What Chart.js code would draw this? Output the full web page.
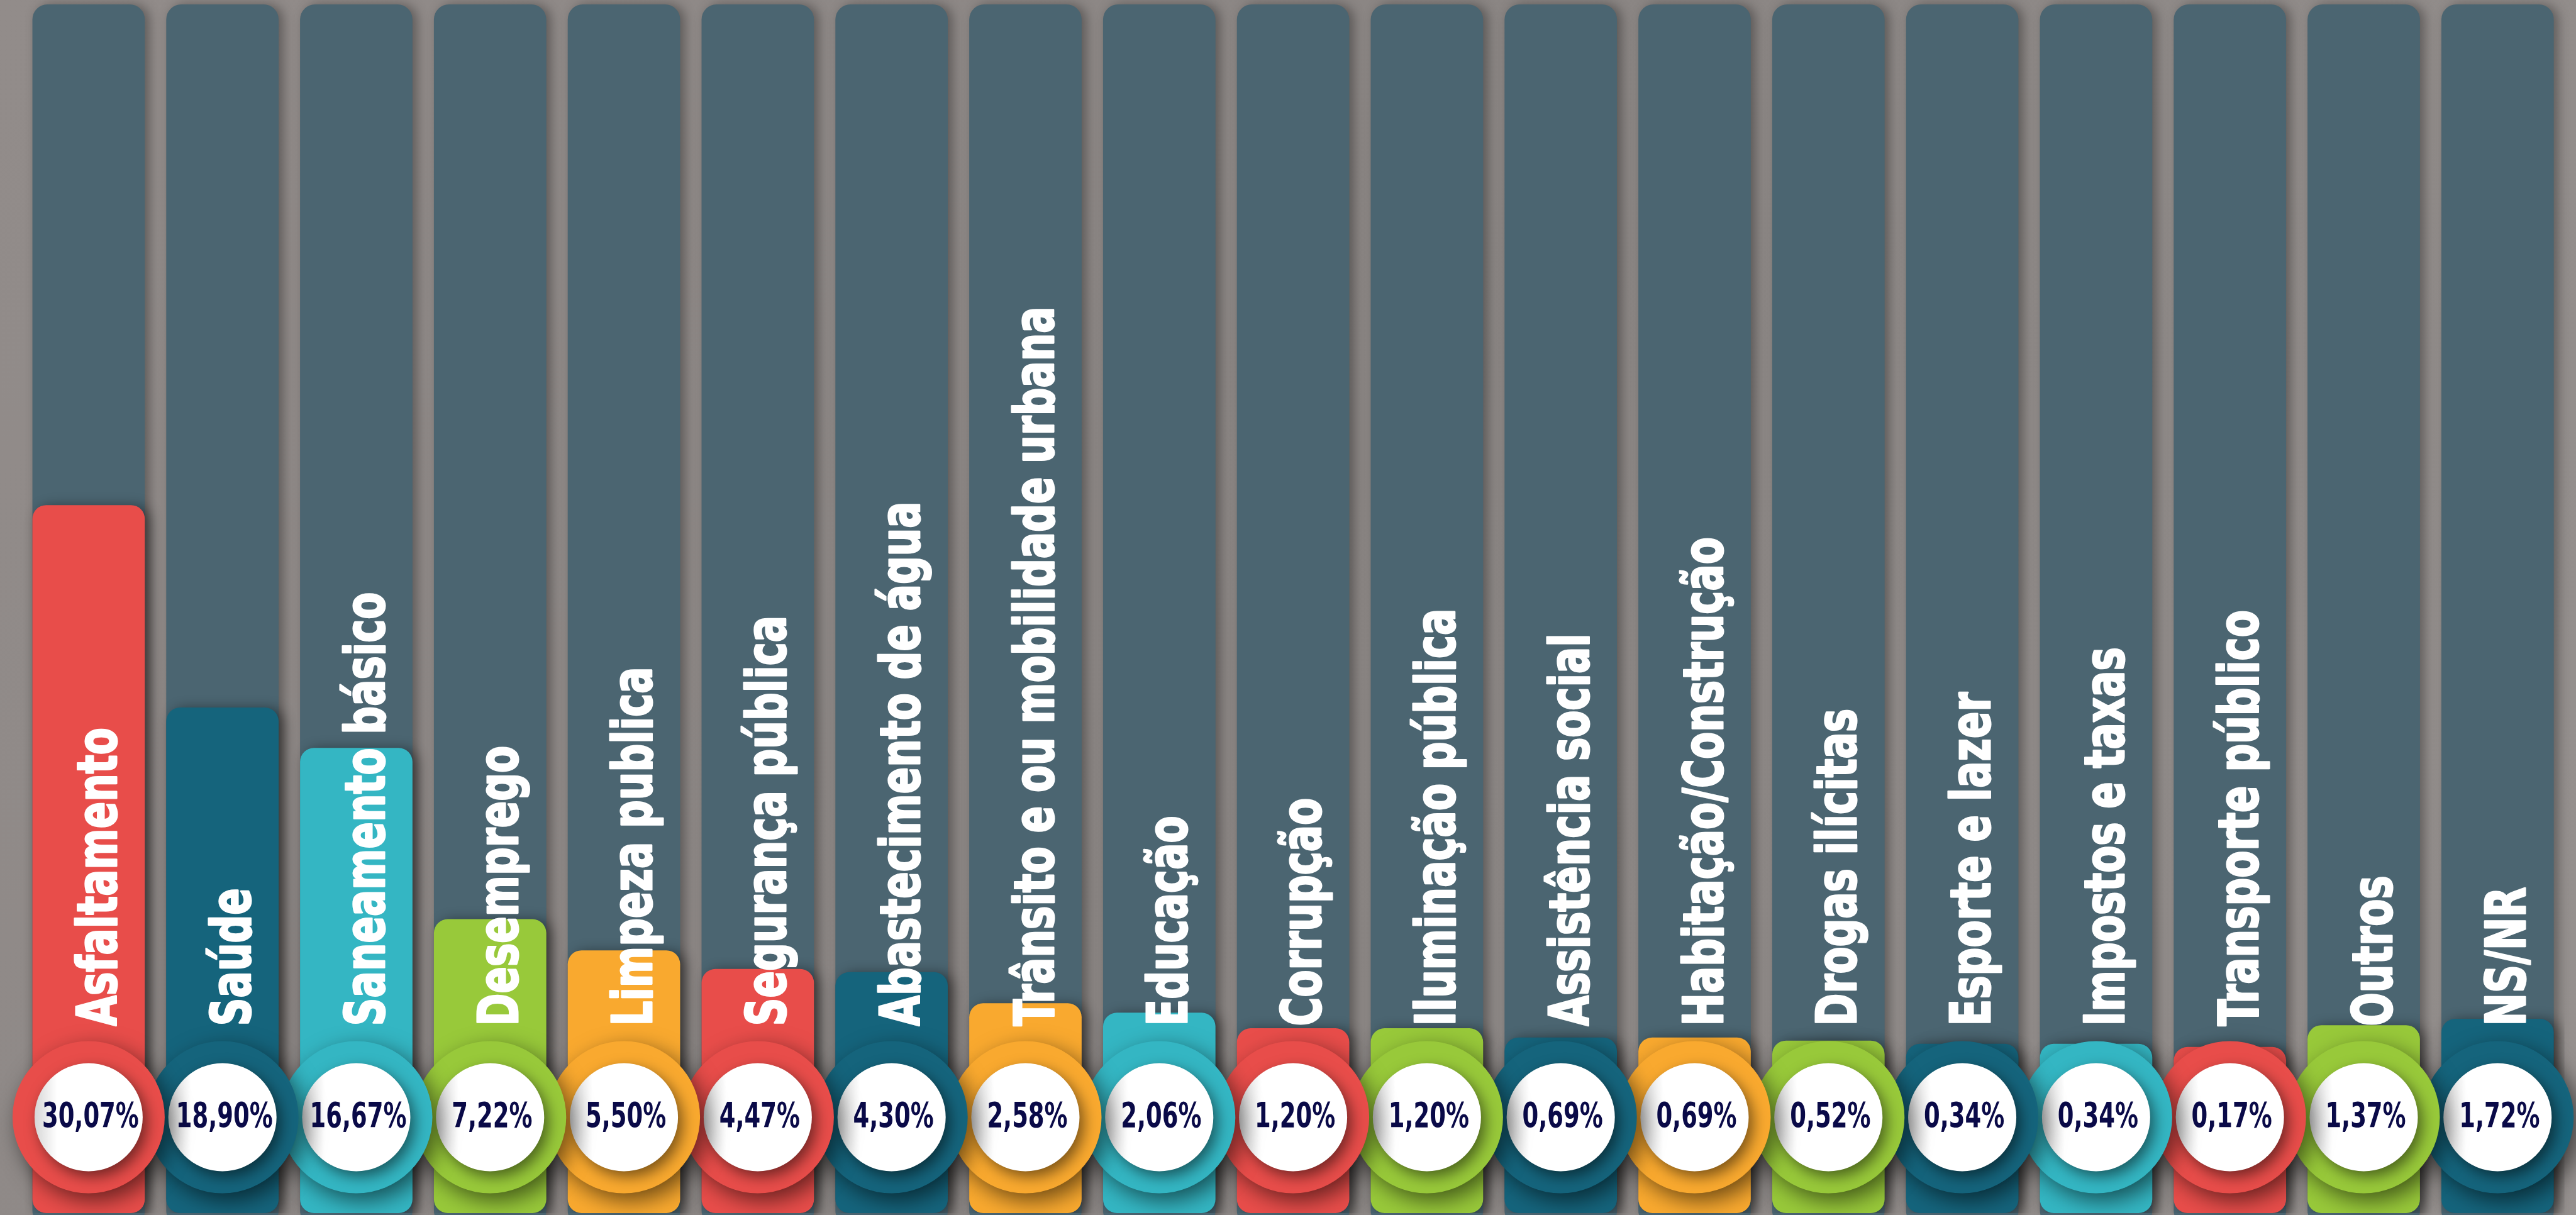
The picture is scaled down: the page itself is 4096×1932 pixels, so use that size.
<!DOCTYPE html>
<html lang="pt-BR">
<head>
<meta charset="utf-8">
<title>Principais problemas</title>
<script src="https://cdn.jsdelivr.net/npm/chart.js@4.4.1/dist/chart.umd.min.js"></script>
<style>
  html, body { margin: 0; padding: 0; background: #8c8786; overflow: hidden; }
  #box { position: relative; width: 4096px; height: 1932px; }
</style>
</head>
<body>
<div id="box"><canvas id="grafico"></canvas></div>
<script>
// Problemas citados
const categorias = [
    "Asfaltamento", "Saúde", "Saneamento básico", "Desemprego", "Limpeza publica",
    "Segurança pública", "Abastecimento de água", "Trânsito e ou mobilidade urbana",
    "Educação", "Corrupção", "Iluminação pública", "Assistência social",
    "Habitação/Construção", "Drogas ilícitas", "Esporte e lazer", "Impostos e taxas",
    "Transporte público", "Outros", "NS/NR"
];

// Percentual de respostas
const percentuais = [
    30.07, 18.90, 16.67, 7.22, 5.50, 4.47, 4.30, 2.58, 2.06, 1.20,
    1.20, 0.69, 0.69, 0.52, 0.34, 0.34, 0.17, 1.37, 1.72
];

// Cor de cada barra
const cores = [
    "#e84d4a", "#15647c", "#34b6c3", "#98c93a", "#f9a92f",
    "#e84d4a", "#15647c", "#f9a92f", "#34b6c3", "#e84d4a",
    "#98c93a", "#15647c", "#f9a92f", "#98c93a", "#15647c",
    "#34b6c3", "#e84d4a", "#98c93a", "#15647c"
];

const Y_MIN = -9;
const Y_MAX = 57.7;
const COR_TRILHO = "#4b6571";
const COR_TEXTO = "#0a0a48";

function formatarPercentual(v) {
    return v.toFixed(2).replace(".", ",") + "%";
}

// Fundo cinza
const fundo = {
    id: "fundo",
    beforeDraw(chart) {
        const ctx = chart.ctx;
        const g = ctx.createLinearGradient(0, 0, chart.width, chart.height);
        g.addColorStop(0, "#928c8a");
        g.addColorStop(0.5, "#8a8583");
        g.addColorStop(1, "#96918f");
        ctx.save();
        ctx.fillStyle = g;
        ctx.fillRect(0, 0, chart.width, chart.height);
        ctx.restore();
    }
};

// Trilhos escuros atrás das barras
const trilhos = {
    id: "trilhos",
    beforeDatasetsDraw(chart) {
        const ctx = chart.ctx;
        const area = chart.chartArea;
        chart.getDatasetMeta(0).data.forEach(bar => {
            ctx.save();
            ctx.shadowColor = "rgba(0,0,0,0.35)";
            ctx.shadowBlur = 18;
            ctx.shadowOffsetX = 7;
            ctx.fillStyle = COR_TRILHO;
            ctx.beginPath();
            ctx.roundRect(bar.x - bar.width / 2, area.top, bar.width, area.bottom - area.top + 20, 24);
            ctx.fill();
            ctx.restore();
        });
    },
    // sombra das barras coloridas
    beforeDatasetDraw(chart) {
        const ctx = chart.ctx;
        ctx.save();
        ctx.shadowColor = "rgba(0,0,0,0.45)";
        ctx.shadowBlur = 20;
        ctx.shadowOffsetX = 8;
        ctx.shadowOffsetY = 2;
    },
    afterDatasetDraw(chart) {
        chart.ctx.restore();
    }
};

// Nomes na vertical e círculos com o percentual
const rotulos = {
    id: "rotulos",
    afterDatasetsDraw(chart) {
        const ctx = chart.ctx;
        const bars = chart.getDatasetMeta(0).data;
        const cy = chart.chartArea.bottom - 152.5;

        bars.forEach((bar, i) => {
            ctx.save();
            ctx.translate(bar.x + 44, cy - 145);
            ctx.rotate(-Math.PI / 2);
            ctx.scale(0.72, 1);
            ctx.font = "bold 87px 'DejaVu Sans'";
            ctx.fillStyle = "#ffffff";
            ctx.strokeStyle = "#ffffff";
            ctx.lineWidth = 3;
            ctx.lineJoin = "round";
            ctx.textAlign = "left";
            ctx.textBaseline = "alphabetic";
            ctx.fillText(categorias[i], 0, 0);
            ctx.strokeText(categorias[i], 0, 0);
            ctx.restore();
        });

        // da direita para a esquerda: o círculo da esquerda fica por cima
        for (let i = bars.length - 1; i >= 0; i--) {
            const x = bars[i].x;

            ctx.save();
            ctx.shadowColor = "rgba(0,0,0,0.55)";
            ctx.shadowBlur = 34;
            ctx.shadowOffsetX = 10;
            ctx.shadowOffsetY = 12;
            ctx.fillStyle = cores[i];
            ctx.beginPath();
            ctx.arc(x, cy, 121, 0, Math.PI * 2);
            ctx.fill();
            ctx.restore();

            ctx.save();
            ctx.shadowColor = "rgba(0,0,0,0.5)";
            ctx.shadowBlur = 22;
            ctx.shadowOffsetX = 7;
            ctx.shadowOffsetY = 9;
            ctx.fillStyle = "#ffffff";
            ctx.beginPath();
            ctx.arc(x, cy, 86, 0, Math.PI * 2);
            ctx.fill();
            ctx.restore();

            ctx.save();
            ctx.beginPath();
            ctx.arc(x, cy, 86, 0, Math.PI * 2);
            ctx.clip();
            const g = ctx.createLinearGradient(x - 86, 0, x - 50, 0);
            g.addColorStop(0, "rgba(0,0,0,0.16)");
            g.addColorStop(1, "rgba(0,0,0,0)");
            ctx.fillStyle = g;
            ctx.fillRect(x - 86, cy - 86, 172, 172);
            ctx.restore();

            ctx.save();
            ctx.translate(x + 3, cy + 15);
            ctx.scale(0.66, 1);
            ctx.font = "bold 56px 'DejaVu Sans'";
            ctx.fillStyle = COR_TEXTO;
            ctx.textAlign = "center";
            ctx.textBaseline = "alphabetic";
            ctx.fillText(formatarPercentual(percentuais[i]), 0, 0);
            ctx.restore();
        }
    }
};

const canvas = document.getElementById("grafico").getContext("2d");

const chart = new Chart(canvas, {
    type: "bar",
    data: {
        labels: categorias,
        datasets: [{
            label: "Percentual",
            data: percentuais,
            base: Y_MIN,
            backgroundColor: cores,
            borderRadius: 22,
            borderSkipped: false,
            barPercentage: 0.84,
            categoryPercentage: 1
        }]
    },
    options: {
        responsive: true,
        maintainAspectRatio: false,
        devicePixelRatio: 1,
        animation: false,
        layout: { padding: { top: 7, bottom: 3, left: 34.5, right: 18.3 } },
        scales: {
            x: { display: false },
            y: { display: false, min: Y_MIN, max: Y_MAX }
        },
        plugins: {
            legend: { display: false },
            tooltip: { enabled: false }
        }
    },
    plugins: [fundo, trilhos, rotulos]
});
</script>
</body>
</html>
